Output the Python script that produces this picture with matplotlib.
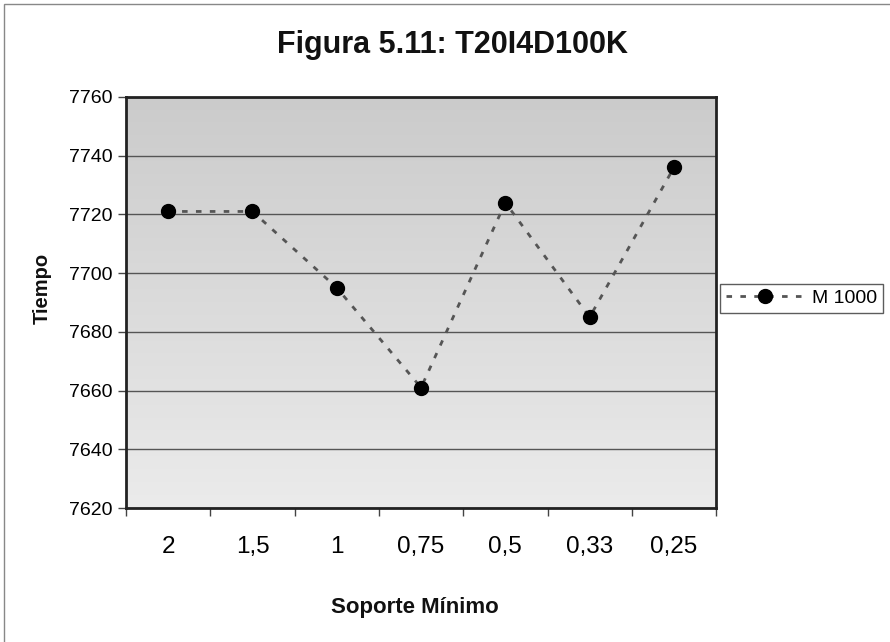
import numpy as np
import matplotlib
matplotlib.use("Agg")
import matplotlib.pyplot as plt
from matplotlib.patches import Rectangle
from matplotlib.colors import LinearSegmentedColormap

# Chart data
soporte = ["2", "1,5", "1", "0,75", "0,5", "0,33", "0,25"]
tiempo_m1000 = [7721, 7721, 7695, 7661, 7724, 7685, 7736]
y_ticks = [7620, 7640, 7660, 7680, 7700, 7720, 7740, 7760]

plt.rcParams["font.family"] = ["Liberation Sans", "DejaVu Sans"]

fig = plt.figure(figsize=(8.9, 6.42), dpi=100)
fig.patch.set_facecolor("white")

# thin frame around the whole chart
fig.patches.append(Rectangle((0.004, -0.01), 1.2, 1.004, transform=fig.transFigure,
                             fill=False, edgecolor="#888888", linewidth=1.0))

ax = fig.add_axes([0.1416, 0.2087, 0.663, 0.6403])

n = len(soporte)
x = np.arange(n)

# grey gradient background, darker at the top
grad = np.linspace(0, 1, 256).reshape(-1, 1)
bg_cmap = LinearSegmentedColormap.from_list("bg", ["#ebebeb", "#cbcbcb"])
ax.imshow(grad, cmap=bg_cmap, aspect="auto", origin="lower",
          extent=(-0.5, n - 0.5, 7620, 7760), zorder=0)

ax.set_xlim(-0.5, n - 0.5)
ax.set_ylim(7620, 7760)
ax.set_yticks(y_ticks)
ax.set_yticklabels([str(v) for v in y_ticks], fontsize=14)
ax.yaxis.grid(True, color="#555555", linewidth=1.0, zorder=1)
ax.set_axisbelow(True)

ax.plot(x, tiempo_m1000, linestyle=(0, (2, 3)), color="#555555", linewidth=2,
        marker="o", markersize=10, markerfacecolor="black", markeredgecolor="black",
        label="M 1000", zorder=3)

ax.set_xticks(x)
ax.set_xticklabels(soporte, fontsize=17.5)
ax.set_xticks(np.arange(-0.5, n, 1), minor=True)
ax.tick_params(axis="x", which="major", length=0, pad=20)
ax.tick_params(axis="x", which="minor", length=6, width=1, color="#444444")
ax.tick_params(axis="y", length=6, width=1, color="#444444", pad=4)

for sp in ax.spines.values():
    sp.set_linewidth(2)
    sp.set_color("#222222")

fig.text(0.508, 0.93, "Figura 5.11: T20I4D100K", ha="center", va="center",
         fontsize=22, fontweight="bold", color="#111111")
fig.text(0.466, 0.054, "Soporte Mínimo", ha="center", va="center",
         fontsize=16, fontweight="bold", color="#111111")
fig.text(0.047, 0.551, "Tiempo", ha="center", va="center", rotation=90,
         fontsize=14.5, fontweight="bold", color="#111111")

leg = ax.legend(loc="center left", bbox_to_anchor=(1.007, 0.51), fontsize=14,
                frameon=True, fancybox=False, handlelength=4.0, borderpad=0.3,
                handletextpad=0.4, borderaxespad=0)
leg.get_frame().set_edgecolor("#333333")
leg.get_frame().set_linewidth(1)

fig.savefig("out.png", dpi=100)
